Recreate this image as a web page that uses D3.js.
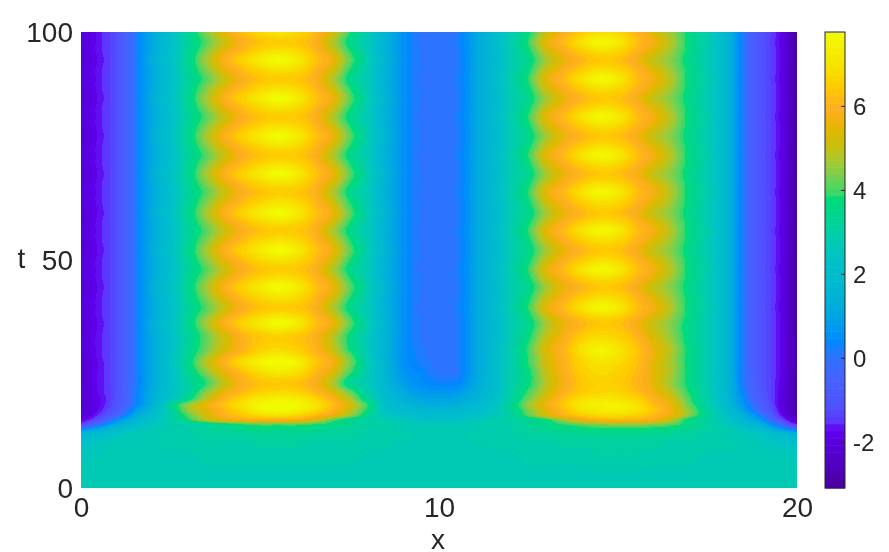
<!DOCTYPE html>
<html><head><meta charset="utf-8">
<script src="https://cdn.jsdelivr.net/npm/d3@7"></script>
<style>
html,body{margin:0;padding:0;background:#fff;width:889px;height:552px;overflow:hidden}
canvas{position:absolute;left:81px;top:32px}
svg{position:absolute;left:0;top:0}
text{font-family:"Liberation Sans",Arial,sans-serif;fill:#262626}
</style></head><body>
<canvas id="heat" width="716" height="456"></canvas>
<svg id="chart" width="889" height="552"></svg>
<script>
const xTicks=[0,10,20], tTicks=[0,50,100], barTicks=[-2,0,2,4,6];
const xLabel="x", tLabel="t";
const xCols=[0,.5,1,1.5,2,2.5,3,3.5,4,4.5,5,5.5,6,6.5,7,7.5,8,8.5,9,9.5,10,10.5,11,11.5,12,12.5,13,13.5,14,14.5,15,15.5,16,16.5,17,17.5,18,18.5,19,19.5,20];
const tRows=[0,3,7,10,12,13,14,15,16,17,18.3,19.5,21,23,25.3,27.6,29,30.3,33.3,36.2,37.9,39.6,41.8,44.1,46,47.9,50,52.2,54.3,56.5,58.4,60.3,62.6,64.9,66.9,68.9,71,73,75,77.2,79.3,81.4,83.4,85.5,87.6,89.7,91.8,93.9,95.9,97.8,100];
// rows read across the start-up region (t = 0 to 33.3)
const earlyRows=[
[2.8,2.8,2.8,2.8,2.8,2.8,2.8,2.8,2.8,2.8,2.8,2.8,2.8,2.8,2.8,2.8,2.8,2.8,2.8,2.8,2.8,2.8,2.8,2.8,2.8,2.8,2.8,2.8,2.8,2.8,2.8,2.8,2.8,2.8,2.8,2.8,2.8,2.8,2.8,2.8,2.8],
[2.8,2.8,2.8,2.8,2.8,2.8,2.8,2.8,2.8,2.8,2.8,2.8,2.8,2.8,2.8,2.8,2.8,2.8,2.8,2.8,2.8,2.8,2.8,2.8,2.8,2.8,2.8,2.8,2.8,2.8,2.8,2.8,2.8,2.8,2.8,2.8,2.8,2.8,2.8,2.8,2.8],
[2.6,2.7,2.8,2.8,2.8,2.8,2.8,2.9,2.9,2.9,2.9,2.9,2.9,2.9,2.9,2.9,2.8,2.8,2.8,2.8,2.8,2.8,2.8,2.8,2.8,2.9,2.9,2.9,2.9,3.0,3.0,3.0,2.9,2.9,2.9,2.8,2.8,2.8,2.8,2.7,2.6],
[2.3,2.5,2.7,2.8,2.8,2.9,2.9,3.0,3.0,3.0,3.1,3.1,3.1,3.0,3.0,3.0,2.9,2.9,2.8,2.8,2.8,2.8,2.8,2.9,2.9,3.0,3.0,3.1,3.1,3.1,3.1,3.1,3.1,3.0,3.0,2.9,2.9,2.8,2.6,2.4,2.2],
[1.6,2.0,2.4,2.7,2.8,2.9,3.0,3.1,3.2,3.2,3.3,3.3,3.3,3.2,3.2,3.1,3.0,2.9,2.9,2.8,2.8,2.8,2.9,3.0,3.0,3.1,3.2,3.3,3.3,3.4,3.4,3.4,3.3,3.3,3.1,3.0,2.8,2.7,2.4,1.9,1.4],
[0.3,1.2,1.9,2.4,2.7,2.9,3.0,3.2,3.3,3.5,3.6,3.6,3.6,3.5,3.3,3.2,3.0,2.9,2.8,2.8,2.8,2.8,2.8,2.9,3.0,3.2,3.4,3.5,3.7,3.8,3.8,3.8,3.7,3.6,3.3,3.1,2.8,2.4,1.8,0.9,-0.2],
[-1.3,0.0,1.2,2.0,2.5,2.8,3.0,3.3,3.6,3.9,4.1,4.1,4.1,3.9,3.7,3.4,3.1,3.0,2.8,2.7,2.6,2.7,2.8,2.9,3.0,3.3,3.6,3.9,4.2,4.4,4.5,4.5,4.4,4.1,3.6,3.1,2.7,2.1,1.3,-0.1,-1.6],
[-1.9,-1.0,0.5,1.6,2.3,3.0,3.8,4.8,5.4,5.8,5.9,5.9,5.8,5.3,4.2,3.5,3.1,2.9,2.6,2.4,2.3,2.4,2.6,2.9,3.1,3.3,3.8,4.7,5.6,5.9,6.0,5.9,5.7,4.9,3.6,3.1,2.5,1.7,0.7,-1.0,-2.3],
[-2.1,-1.5,-0.4,1.1,2.1,2.9,4.1,5.2,6.0,6.4,6.8,7.0,6.7,6.2,5.6,4.6,3.4,2.5,2.2,2.0,1.9,2.0,2.3,2.6,3.1,4.1,5.2,6.0,6.5,6.8,6.8,6.6,6.1,5.5,4.4,3.2,2.4,1.4,0.2,-1.5,-2.6],
[-2.2,-1.7,-0.8,0.7,1.8,3.0,4.5,5.4,6.1,6.7,7.4,7.6,7.4,6.8,6.0,5.0,3.7,2.4,2.0,1.8,1.7,1.8,2.1,2.5,3.2,4.3,5.4,6.2,6.9,7.2,7.3,7.0,6.4,5.7,4.5,3.2,2.2,1.0,-0.3,-1.7,-2.7],
[-2.2,-1.8,-1.0,0.3,1.5,3.2,4.6,5.6,6.4,7.0,7.6,7.8,7.7,7.1,6.3,5.3,3.9,2.2,1.7,1.4,1.3,1.4,1.8,2.3,3.3,4.6,5.7,6.5,7.2,7.4,7.4,7.0,6.2,5.5,4.2,3.0,2.0,0.7,-0.6,-1.8,-2.8],
[-2.2,-1.8,-1.1,0.2,1.4,2.5,3.6,5.0,6.0,6.7,7.2,7.4,7.3,6.8,6.0,4.9,3.3,2.1,1.4,1.1,1.0,1.1,1.5,2.2,3.1,4.3,5.4,6.3,6.9,7.1,7.0,6.7,6.0,5.3,4.0,2.9,1.9,0.5,-0.8,-1.8,-2.8],
[-2.2,-1.7,-1.15,0.2,1.3,2.3,3.2,4.5,5.6,6.2,6.6,6.8,6.7,6.2,5.5,4.3,3.0,1.9,1.2,0.8,0.7,0.8,1.3,2.0,3.0,4.0,5.1,6.0,6.5,6.7,6.7,6.3,5.7,4.9,3.8,2.9,1.8,0.3,-0.9,-1.8,-2.8],
[-2.2,-1.7,-1.15,0.1,1.2,2.2,3.1,3.9,5.0,5.9,6.3,6.4,6.3,5.9,4.9,3.4,2.7,1.7,0.9,0.5,0.35,0.4,1.1,1.9,2.9,3.7,4.9,5.8,6.4,6.6,6.5,6.1,5.5,4.6,3.6,2.8,1.8,0.2,-1.0,-1.75,-2.8],
[-2.2,-1.7,-1.15,0.1,1.2,2.3,3.3,4.4,5.5,6.2,6.8,7.1,6.9,6.2,5.4,4.0,2.8,1.6,0.7,0.4,0.1,0.15,1.0,1.9,2.9,3.7,5.0,5.9,6.5,6.8,6.6,6.2,5.5,4.7,3.6,2.8,1.8,0.1,-1.05,-1.7,-2.8],
[-2.3,-1.7,-1.15,0.1,1.2,2.3,3.5,4.9,6.0,6.8,7.5,7.8,7.5,6.5,5.8,4.4,2.9,1.6,0.6,0.25,0.05,0.15,1.0,1.9,2.9,3.9,5.2,6.0,6.7,7.0,6.8,6.3,5.5,4.7,3.6,2.8,1.8,0.1,-1.05,-1.7,-2.8],
[-2.2,-1.65,-1.15,0.1,1.2,2.3,3.4,4.6,5.7,6.4,7.0,7.3,7.0,6.3,5.6,4.2,2.8,1.5,0.6,0.2,0.05,0.15,1.0,1.9,2.9,3.9,5.2,6.0,6.8,7.3,7.0,6.4,5.6,4.7,3.6,2.8,1.8,0.1,-1.05,-1.7,-2.8],
[-2.1,-1.65,-1.15,0.1,1.2,2.2,3.3,4.3,5.3,6.0,6.6,6.8,6.6,6.1,5.2,3.8,2.7,1.5,0.6,0.15,0.05,0.15,1.0,1.9,2.9,4.0,5.4,6.1,7.0,7.5,7.1,6.4,5.6,4.8,3.6,2.8,1.8,0.1,-1.05,-1.7,-2.8],
[-2.1,-1.65,-1.15,0.1,1.2,2.2,3.2,4.2,5.2,6.0,6.4,6.6,6.4,6.0,5.0,3.7,2.7,1.5,0.6,0.1,0.05,0.15,1.0,1.8,2.8,3.7,5.0,5.8,6.5,6.8,6.6,6.1,5.3,4.5,3.5,2.8,1.8,0.1,-1.05,-1.7,-2.8]
];
// the three cross-sections the settled oscillation keeps returning to
const leftPeak=[-2.2,-1.7,-1.15,0.1,1.3,2.3,3.4,4.7,5.9,6.6,7.2,7.7,7.3,6.4,5.7,4.2,2.9,1.6,0.6,0.1,0.05,0.15,1.0,1.8,2.8,3.5,4.7,5.6,6.1,6.4,6.3,5.8,5.0,4.4,3.5,2.8,1.8,0.1,-1.05,-1.7,-2.9];
const between=[-2.1,-1.65,-1.15,0.1,1.2,2.2,3.3,4.4,5.5,6.2,6.7,7.0,6.8,6.2,5.3,3.9,2.8,1.5,0.6,0.1,0.05,0.15,1.0,1.8,2.8,3.7,5.1,5.9,6.5,6.9,6.7,6.1,5.4,4.6,3.6,2.8,1.8,0.1,-1.05,-1.7,-2.9];
const rightPeak=[-2.1,-1.65,-1.15,0.1,1.2,2.2,3.2,4.1,5.1,5.9,6.3,6.5,6.4,6.0,4.9,3.6,2.7,1.5,0.6,0.05,0.05,0.2,1.0,1.9,2.9,3.9,5.5,6.2,7.0,7.6,7.2,6.3,5.7,4.8,3.6,2.9,1.8,0.1,-1.05,-1.75,-2.9];
const field=earlyRows.concat([
leftPeak,between,rightPeak,between,leftPeak,between,rightPeak,between,
leftPeak,between,rightPeak,between,leftPeak,between,rightPeak,between,
leftPeak,between,rightPeak,between,leftPeak,between,rightPeak,between,
leftPeak,between,rightPeak,between,leftPeak,between,rightPeak,between]);
const colorValues=[-3.1,-2.55,-2,-1.7,-1.55,-1.2,-0.55,0,0.25,0.4,0.55,1.1,1.7,2.3,2.85,3.4,3.85,3.95,4.35,4.7,5.05,5.45,5.7,6,6.4,6.9,7.4,7.76];
const colorStops=["#480098","#5000c0","#5800e0","#6000f0","#6030ff","#5050ff","#4860ff","#3070ff","#1880ff","#0088fb","#0090f8","#00a8e0","#00b8d0","#00c0c8","#00ccb0","#00d490","#00dc78","#40d868","#78d050","#a8c830","#c8c010","#e0b800","#f5b010","#ffb020","#ffc800","#f8e000","#f5f000","#f0ff00"];
const barDomain=[-3.1,7.76];

const x=d3.scaleLinear().domain([0,20]).range([81,797]);
const t=d3.scaleLinear().domain([0,100]).range([488,32]);
const bar=d3.scaleLinear().domain(barDomain).range([488,32]);
const ramp=d3.scaleLinear().domain(colorValues).range(colorStops).interpolate(d3.interpolateRgb).clamp(true);
const levels=d3.range(64);
const level=d3.scaleQuantize().domain(barDomain).range(levels);
const levelColor=i=>ramp(barDomain[0]+(i+.5)*(barDomain[1]-barDomain[0])/64);
const palette=levels.map(i=>d3.rgb(levelColor(i)));

const colIdx=d3.scaleLinear().domain(xCols).range(d3.range(xCols.length)).clamp(true);
const rowIdx=d3.scaleLinear().domain(tRows).range(d3.range(tRows.length)).clamp(true);
function weights(f){const f2=f*f,f3=f2*f;return[-.5*f3+f2-.5*f,1.5*f3-2.5*f2+1,-1.5*f3+2*f2+.5*f,.5*f3-.5*f2];}
const ctx=document.getElementById("heat").getContext("2d");
const img=ctx.createImageData(716,456);
const nc=xCols.length,nr=field.length;
for(let py=0;py<456;py++){
  const ry=rowIdx(t.invert(py+32.5)),r0=Math.min(Math.floor(ry),nr-2),wy=weights(ry-r0);
  for(let px=0;px<716;px++){
    const cx=colIdx(x.invert(px+81.5)),c0=Math.min(Math.floor(cx),nc-2),wx=weights(cx-c0);
    let v=0;
    for(let j=0;j<4;j++){
      const row=field[Math.max(0,Math.min(nr-1,r0-1+j))];
      for(let i=0;i<4;i++) v+=wy[j]*wx[i]*row[Math.max(0,Math.min(nc-1,c0-1+i))];
    }
    const c=palette[level(v)],k=(py*716+px)*4;
    img.data[k]=c.r;img.data[k+1]=c.g;img.data[k+2]=c.b;img.data[k+3]=255;
  }
}
ctx.putImageData(img,0,0);

const svg=d3.select("#chart");
const font=28, barFont=24;
const gx=svg.append("g").attr("transform","translate(0,488)").call(d3.axisBottom(x).tickValues(xTicks).tickSize(0).tickFormat(d3.format("d")));
const gy=svg.append("g").attr("transform","translate(81,0)").call(d3.axisLeft(t).tickValues(tTicks).tickSize(0).tickPadding(8).tickFormat(d3.format("d")));
[gx,gy].forEach(g=>{g.select(".domain").remove();g.selectAll("text").attr("font-size",font).style("fill","#262626");g.attr("font-family",null);});
gy.selectAll("text").attr("dy",0).attr("y",9);
gx.selectAll("text").attr("dy",0).attr("y",29);
svg.append("text").attr("x",438).attr("y",549).attr("text-anchor","middle").attr("font-size",font).text(xLabel);
svg.append("text").attr("x",21.5).attr("y",268).attr("text-anchor","middle").attr("font-size",font).text(tLabel);

const barG=svg.append("g");
const h=(bar.range()[0]-bar.range()[1])/64;
barG.selectAll("rect.lv").data(levels).join("rect").attr("class","lv")
  .attr("x",825).attr("width",20)
  .attr("y",d=>bar(barDomain[0]+(d+1)*(barDomain[1]-barDomain[0])/64))
  .attr("height",h+.5).attr("fill",levelColor);
barG.append("rect").attr("x",825).attr("y",32).attr("width",20).attr("height",456).attr("fill","none").attr("stroke","#262626").attr("stroke-width",1);
const gb=svg.append("g").attr("transform","translate(845,0)").call(d3.axisRight(bar).tickValues(barTicks).tickSize(-4).tickPadding(8).tickFormat(d=>String(d)));
gb.select(".domain").remove();
gb.selectAll("line").attr("stroke","#262626");
gb.selectAll("text").attr("font-size",barFont).attr("dy",0).attr("y",8.5).style("fill","#262626");
gb.attr("font-family",null);
</script></body></html>
